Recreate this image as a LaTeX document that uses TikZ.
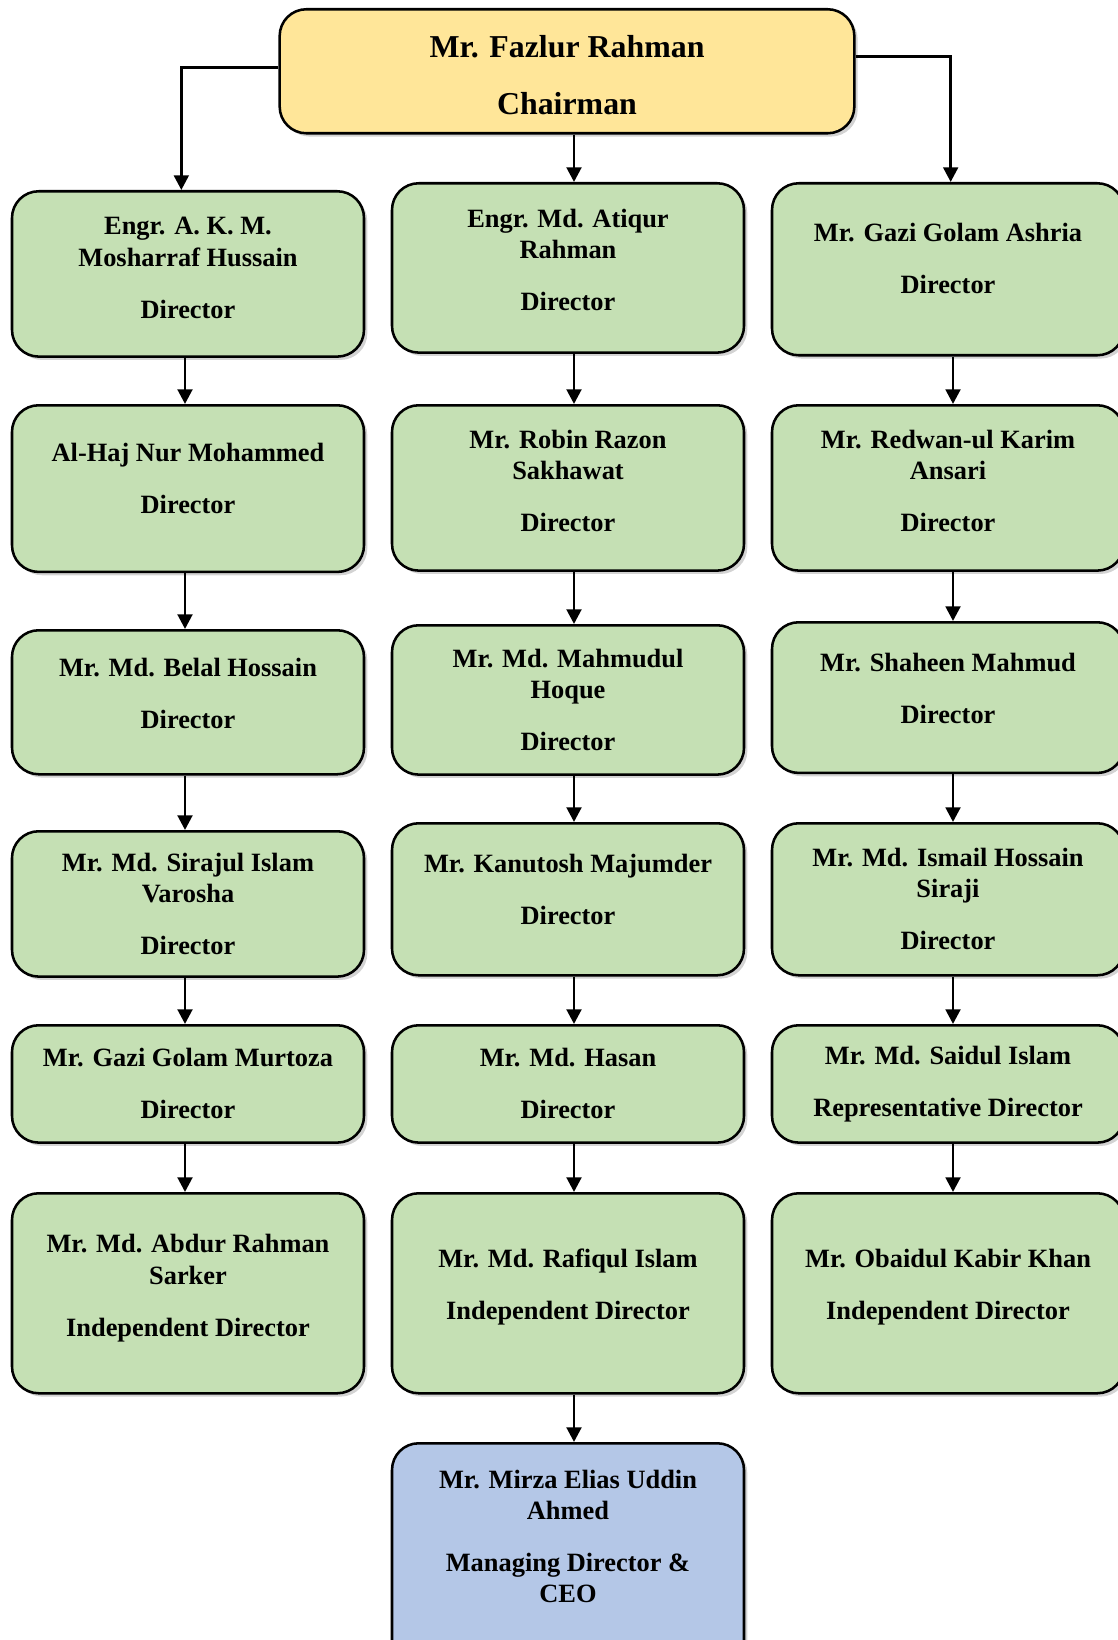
\documentclass[tikz,border=0pt]{standalone}
\usepackage{fontspec}
\setmainfont{Liberation Serif}
\usetikzlibrary{arrows.meta,shadows}
\definecolor{chairyellow}{HTML}{FFE699}
\definecolor{dirgreen}{HTML}{C5E0B4}
\definecolor{ceoblue}{HTML}{B4C7E7}

\begin{document}
\begin{tikzpicture}[x=0.75pt, y=-0.75pt,
    person/.style={draw=black, line width=1.9pt, rounded corners=20pt, fill=dirgreen,
        minimum width=264pt, align=center, anchor=north,
        font=\fontsize{19.8}{23.5}\selectfont\bfseries,
        drop shadow={shadow xshift=2.5pt, shadow yshift=-2.5pt, opacity=0.35}},
    link/.style={line width=2.2pt, -{Triangle[length=11pt,width=11pt]}}]
    \useasboundingbox (0,0) rectangle (1117,1640);

    \node[person, fill=chairyellow, minimum width=431pt, minimum height=93pt,
        font=\fontsize{23.9}{28}\selectfont\bfseries] (chair) at (567,8)
        {\rule{0pt}{22pt}Mr. Fazlur Rahman\\[15pt]Chairman};

    % left column
    \node[person, minimum height=124pt, text depth=9.4pt] (a1) at (188,190) {Engr. A. K. M.\\Mosharraf Hussain\\[15.5pt]Director};
    \node[person, minimum height=125pt, text depth=15.7pt] (a2) at (188,404) {Al-Haj Nur Mohammed\\[15.5pt]Director};
    \node[person, minimum height=108pt, text depth=14pt] (a3) at (188,629) {Mr. Md. Belal Hossain\\[15.5pt]Director};
    \node[person, minimum height=109pt] (a4) at (188,830) {Mr. Md. Sirajul Islam\\Varosha\\[15.5pt]Director};
    \node[person, minimum height=88pt] (a5) at (188,1024) {Mr. Gazi Golam Murtoza\\[15.5pt]Director};
    \node[person, minimum height=150pt, text depth=12pt] (a6) at (188,1192) {Mr. Md. Abdur Rahman\\Sarker\\[15.5pt]Independent Director};

    % middle column
    \node[person, minimum height=127pt, text depth=12.6pt] (b1) at (568,182) {Engr. Md. Atiqur\\Rahman\\[15.5pt]Director};
    \node[person, minimum height=124pt, text depth=10.2pt] (b2) at (568,404) {Mr. Robin Razon\\Sakhawat\\[15.5pt]Director};
    \node[person, minimum height=112pt] (b3) at (568,624) {Mr. Md. Mahmudul\\Hoque\\[15.5pt]Director};
    \node[person, minimum height=114pt, text depth=15pt] (b4) at (568,822) {Mr. Kanutosh Majumder\\[15.5pt]Director};
    \node[person, minimum height=88pt] (b5) at (568,1024) {Mr. Md. Hasan\\[15.5pt]Director};
    \node[person, minimum height=150pt, text depth=13pt] (b6) at (568,1192) {Mr. Md. Rafiqul Islam\\[15.5pt]Independent Director};
    \node[person, fill=ceoblue, inner ysep=20pt, text depth=110pt] (ceo) at (568,1442)
        {Mr. Mirza Elias Uddin\\Ahmed\\[15.5pt]Managing Director \&\\CEO};

    % right column
    \node[person, minimum height=129pt, text depth=15.7pt] (c1) at (948,182) {Mr. Gazi Golam Ashria\\[15.5pt]Director};
    \node[person, minimum height=124pt, text depth=10.2pt] (c2) at (948,404) {Mr. Redwan-ul Karim\\Ansari\\[15.5pt]Director};
    \node[person, minimum height=113pt, text depth=14pt] (c3) at (948,621) {Mr. Shaheen Mahmud\\[15.5pt]Director};
    \node[person, minimum height=114pt] (c4) at (948,822) {Mr. Md. Ismail Hossain\\Siraji\\[15.5pt]Director};
    \node[person, minimum height=88pt] (c5) at (948,1024) {Mr. Md. Saidul Islam\\[15.5pt]Representative Director};
    \node[person, minimum height=150pt, text depth=13.7pt] (c6) at (948,1192) {Mr. Obaidul Kabir Khan\\[15.5pt]Independent Director};

    \coordinate (colA) at (185,0);
    \coordinate (colB) at (574,0);
    \coordinate (colC) at (953,0);

    \draw[link] ([yshift=3pt]chair.west) -| ([xshift=-5pt]a1.north);
    \draw[link] (chair.south -| colB) -- (b1.north -| colB);
    \draw[link] ([yshift=11pt]chair.east) -| ([xshift=2pt]c1.north);

    \foreach \c/\x in {a/colA, b/colB, c/colC} {
        \foreach \i [evaluate=\i as \j using int(\i+1)] in {1,...,5}
            \draw[link] (\c\i.south -| \x) -- (\c\j.north -| \x);
    }
    \draw[link] (b6.south -| colB) -- (ceo.north -| colB);
\end{tikzpicture}
\end{document}
